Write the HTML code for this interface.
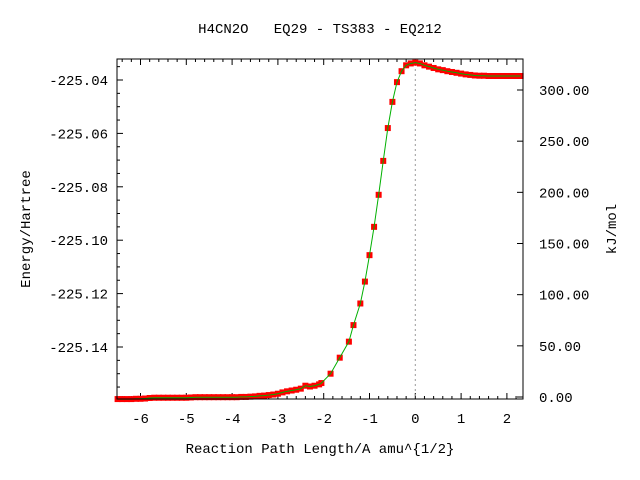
<!DOCTYPE html>
<html><head><meta charset="utf-8"><style>
body{margin:0;background:#fff}
svg{display:block;font-family:"Liberation Mono","DejaVu Sans Mono",monospace;font-size:14px}
text{white-space:pre}
</style></head><body>
<svg id="chart" width="640" height="480">
<text x="320" y="33" text-anchor="middle" xml:space="preserve">H4CN2O   EQ29 - TS383 - EQ212</text>
<text transform="translate(30,229) rotate(-90)" text-anchor="middle">Energy/Hartree</text>
<text transform="translate(616,229) rotate(-90)" text-anchor="middle">kJ/mol</text>
<text x="320" y="453" text-anchor="middle">Reaction Path Length/A amu^{1/2}</text>
<g id="axes"></g>
<g id="series"></g>
<rect x="117" y="59" width="406" height="340" fill="none" stroke="#000"/>
</svg>
<script>
const xs=[-6.5,-6.4,-6.3,-6.2,-6.1,-6.0,-5.9,-5.8,-5.7,-5.6,-5.5,-5.4,-5.3,-5.2,-5.1,-5.0,-4.9,-4.8,-4.7,-4.6,-4.5,-4.4,-4.3,-4.2,-4.1,-4.0,-3.9,-3.8,-3.7,-3.6,-3.5,-3.4,-3.3,-3.2,-3.1,-3.0,-2.9,-2.8,-2.7,-2.6,-2.5,-2.4,-2.3,-2.2,-2.1,-2.05,-1.85,-1.65,-1.45,-1.35,-1.2,-1.1,-1.0,-0.9,-0.8,-0.7,-0.6,-0.5,-0.4,-0.3,-0.2,-0.1,0.0,0.1,0.2,0.3,0.4,0.5,0.6,0.7,0.8,0.9,1.0,1.1,1.2,1.3,1.4,1.5,1.6,1.7,1.8,1.9,2.0,2.1,2.2,2.3];
const energies=[-225.1595,-225.1595,-225.1595,-225.1595,-225.1594,-225.1594,-225.1593,-225.1591,-225.1590,-225.1590,-225.1590,-225.1590,-225.1590,-225.1590,-225.1590,-225.1590,-225.1589,-225.1588,-225.1588,-225.1588,-225.1588,-225.1588,-225.1588,-225.1588,-225.1588,-225.1588,-225.1588,-225.1587,-225.1587,-225.1586,-225.1585,-225.1583,-225.1582,-225.1580,-225.1578,-225.1575,-225.1570,-225.1566,-225.1563,-225.1560,-225.1556,-225.1545,-225.1548,-225.1545,-225.1540,-225.1535,-225.1500,-225.1440,-225.1380,-225.1318,-225.1237,-225.1155,-225.1056,-225.0950,-225.0830,-225.0703,-225.0580,-225.0482,-225.0408,-225.0367,-225.0345,-225.0338,-225.0335,-225.0338,-225.0345,-225.0350,-225.0355,-225.0360,-225.0363,-225.0367,-225.0370,-225.0373,-225.0376,-225.0379,-225.0381,-225.0383,-225.0384,-225.0384,-225.0385,-225.0385,-225.0385,-225.0385,-225.0385,-225.0385,-225.0385,-225.0385];
const xTicks=[-6,-5,-4,-3,-2,-1,0,1,2];
const yTicks=[-225.04,-225.06,-225.08,-225.10,-225.12,-225.14];
const y2Ticks=[0,50,100,150,200,250,300];
const NS="http://www.w3.org/2000/svg";
const X=v=>415.3+(v-0)*45.8;
const Y=e=>347-(e+225.14)*2670;
const Y2=k=>397-k*1.0233;
function mk(tag,attrs,parent){const el=document.createElementNS(NS,tag);for(const k in attrs)el.setAttribute(k,attrs[k]);parent.appendChild(el);return el;}
const ax=document.getElementById('axes'),se=document.getElementById('series');
for(let v=-6.4;v<=2.31;v+=0.2){const px=X(v);if(px<117||px>523)continue;const major=Math.abs(v-Math.round(v))<1e-6;const L=major?6:3;
const t1=mk('line',{x1:px,x2:px,y1:399,y2:399-L,stroke:'#000'},ax);


const t2=mk('line',{x1:px,x2:px,y1:59,y2:59+L,stroke:'#000'},ax);

}
xTicks.forEach(v=>{const t=mk('text',{x:X(v),y:423,'text-anchor':'middle'},ax);t.textContent=String(v);

});
for(let e=-225.155;e<=-225.034;e+=0.005){const py=Y(e);const major=Math.abs((e+225.04)/0.02-Math.round((e+225.04)/0.02))<1e-4;
const t=mk('line',{x1:117,x2:117+(major?6:3),y1:py,y2:py,stroke:'#000'},ax);

}
yTicks.forEach(e=>{const t=mk('text',{x:108,y:Y(e)+5,'text-anchor':'end'},ax);t.textContent=e.toFixed(2);

});
y2Ticks.forEach(k=>{const py=Y2(k);const l=mk('line',{x1:523,x2:517,y1:py,y2:py,stroke:'#000'},ax);


const t=mk('text',{x:539,y:py+5},ax);t.textContent=k.toFixed(2);

});
const ts=mk('line',{x1:X(0),x2:X(0),y1:59,y2:399,stroke:'#999','stroke-dasharray':'2,3'},ax);


xs.forEach((v,i)=>{const r=mk('rect',{x:X(v)-3,y:Y(energies[i])-3,width:6,height:6,fill:'#f00'},se);

});
const pl=mk('polyline',{points:xs.map((v,i)=>X(v)+','+Y(energies[i])).join(' '),fill:'none',stroke:'#00b000','stroke-width':1},se);


</script>
</body></html>
